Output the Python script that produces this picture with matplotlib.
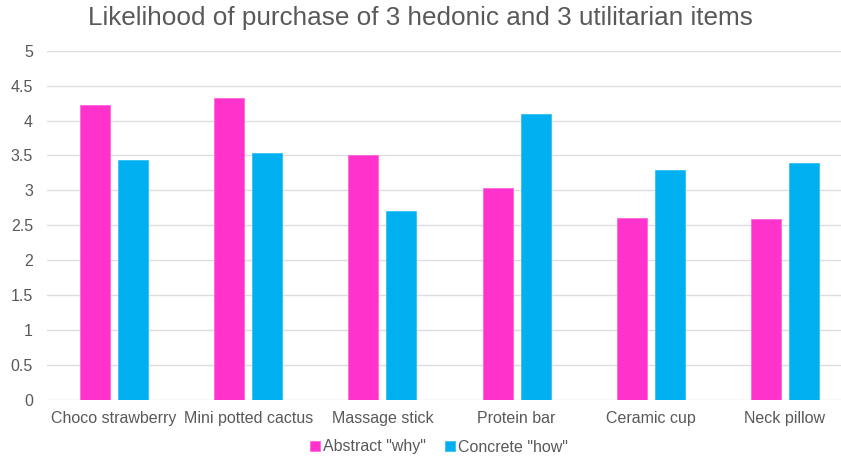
import matplotlib
matplotlib.use('Agg')
import matplotlib.pyplot as plt
import numpy as np

plt.rcParams['font.family'] = ['Liberation Sans', 'DejaVu Sans']

items = ['Choco strawberry', 'Mini potted cactus', 'Massage stick',
         'Protein bar', 'Ceramic cup', 'Neck pillow']
abstract_why = [4.22, 4.33, 3.51, 3.04, 2.61, 2.59]
concrete_how = [3.44, 3.54, 2.70, 4.09, 3.29, 3.39]
yticks = [0, 0.5, 1, 1.5, 2, 2.5, 3, 3.5, 4, 4.5, 5]

pink = '#FF33CC'
blue = '#00B0F0'
grey = '#595959'

fig = plt.figure(figsize=(8.41, 4.63), dpi=100)
ax = fig.add_axes([47/841, 1 - 400/463, 805/841, (400 - 50.7)/463])

x = np.arange(len(items))
w = 0.224
off = 0.1416
ax.bar(x - off, abstract_why, w, color=pink, edgecolor='#FF66DD', linewidth=0.6,
       label='Abstract "why"', zorder=3)
ax.bar(x + off, concrete_how, w, color=blue, edgecolor='#33C0F3', linewidth=0.6,
       label='Concrete "how"', zorder=3)

ax.set_xlim(-0.5, len(items) - 0.5)
ax.set_ylim(0, 5)
ax.set_yticks(yticks)
ax.set_yticklabels([f'{v:g}' for v in yticks])
ax.set_xticks(x)
ax.set_xticklabels(items)
ax.yaxis.grid(True, color='#DDDDDD', linewidth=1, zorder=0)
for s in ax.spines.values():
    s.set_visible(False)
ax.tick_params(axis='both', length=0, colors=grey, labelsize=11.5)
ax.tick_params(axis='y', pad=10)
ax.tick_params(axis='x', pad=8)

fig.suptitle('Likelihood of purchase of 3 hedonic and 3 utilitarian items',
             x=420/841, y=1 - 18/463, va='center', fontsize=18.8, color=grey)

leg = fig.legend(loc='center', bbox_to_anchor=(439/841, 1 - 447/463), ncol=2,
                 frameon=False, fontsize=11.5, handlelength=0.6, handleheight=0.6,
                 handletextpad=0.2, columnspacing=1.2)
for t in leg.get_texts():
    t.set_color(grey)

fig.savefig('out.png', dpi=100)
